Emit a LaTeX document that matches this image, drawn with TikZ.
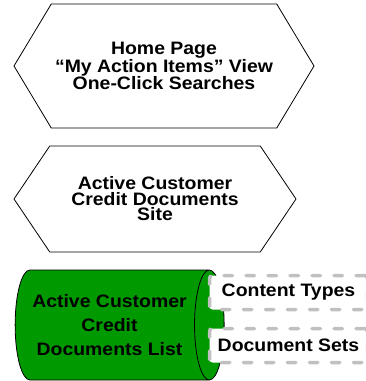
\documentclass[tikz,border=0pt]{standalone}
\usepackage{fontspec}
\setmainfont{Liberation Sans}[FakeStretch=1.08]
\usepackage{tikz}
\usetikzlibrary{shapes,positioning}
\definecolor{listgreen}{RGB}{0,153,0}
\definecolor{storegray}{RGB}{192,192,192}
\tikzset{site level/.style={draw=black, line width=0.8pt, signal, signal to=west and east, align=center, font=\bfseries\fontsize{18}{15.5}\selectfont}}
\tikzset{list drum/.style={draw=black, line width=0.8pt, cylinder, fill=listgreen, align=center, font=\bfseries\fontsize{18}{23.7}\selectfont}}
\tikzset{store box/.style={draw=storegray, fill=white, line width=3.5pt, dash pattern=on 8.5pt off 13.5pt, line cap=round, rounded corners=3pt, minimum width=158pt, minimum height=34pt, font=\bfseries\fontsize{18}{20}\selectfont}}

\begin{document}
\begin{tikzpicture}[x=1pt, y=-1pt]
\useasboundingbox (0,0) rectangle (365,381);
\node[site level, signal pointer angle=118, minimum width=300pt, minimum height=124pt] (home) at (164,66) {Home Page\\“My Action Items” View\\One-Click Searches};
\node[site level, signal pointer angle=112, minimum width=282pt, minimum height=106pt] (site) at (155,199) {Active Customer\\Credit Documents\\Site};
% the list, with its two stores over the front end
\node[list drum, shape aspect=0.44, minimum width=110pt, minimum height=209pt] (list) at (109.5,325) {Active Customer\\Credit\\Documents List};
\node[store box] (ctypes) at (288.5,292.5) {Content Types};
\node[store box] (docsets) at (288.5,345.5) {Document Sets};
\end{tikzpicture}
\end{document}
